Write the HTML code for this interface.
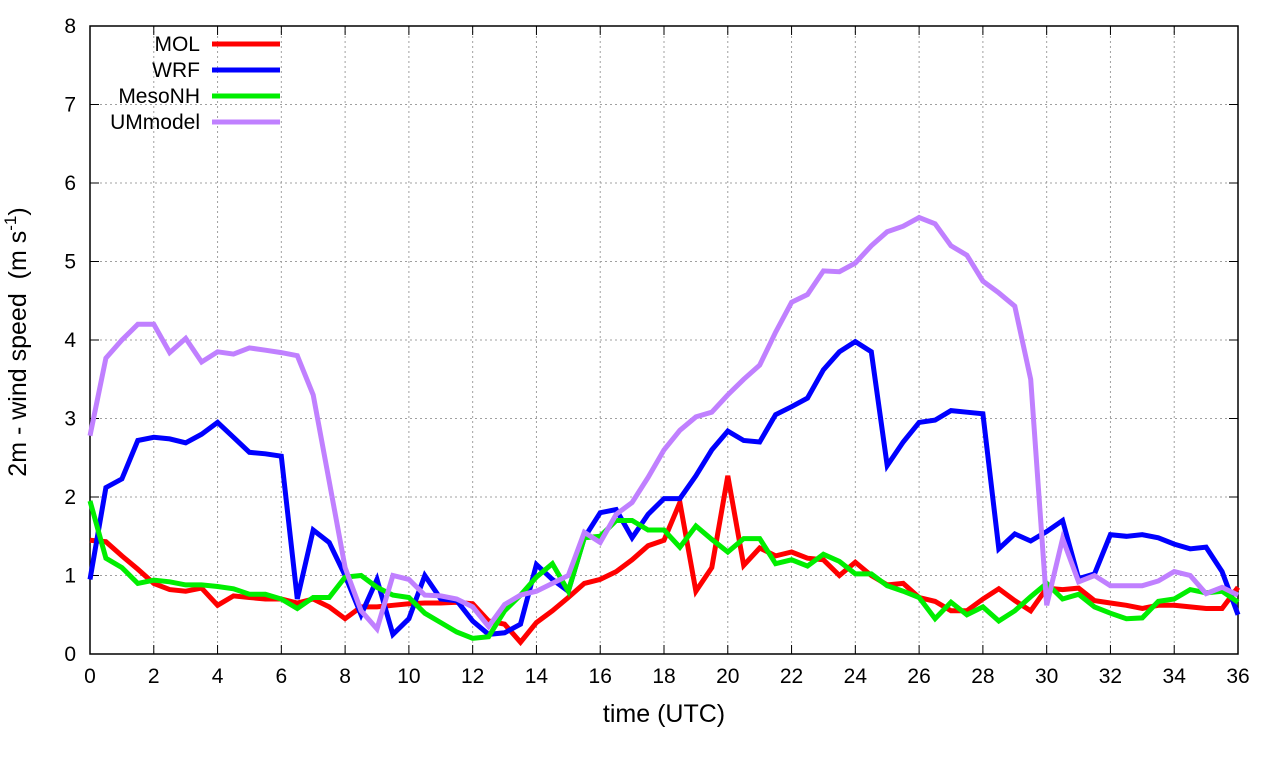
<!DOCTYPE html>
<html><head><meta charset="utf-8"><style>
body{margin:0;background:#fff;}
svg{display:block;font-family:"Liberation Sans",sans-serif;}
</style></head><body>
<svg id="chart" width="1280" height="760"></svg>
<script>
const hours = Array.from({length:73},(_,i)=>i*0.5);
const xTicks = [0,2,4,6,8,10,12,14,16,18,20,22,24,26,28,30,32,34,36];
const yTicks = [0,1,2,3,4,5,6,7,8];
const seriesNames = ["MOL","WRF","MesoNH","UMmodel"];
const seriesColors = ["#ff0000","#0000ff","#00ee00","#c080ff"];
const mol = [1.45,1.43,1.25,1.08,0.9,0.82,0.8,0.84,0.62,0.74,0.72,0.7,0.7,0.65,0.7,0.6,0.45,0.6,0.6,0.62,0.64,0.65,0.65,0.66,0.64,0.42,0.38,0.15,0.4,0.55,0.72,0.9,0.95,1.05,1.2,1.38,1.45,1.93,0.8,1.1,2.27,1.13,1.35,1.25,1.3,1.22,1.2,1.0,1.17,1.0,0.88,0.9,0.72,0.67,0.55,0.55,0.7,0.83,0.68,0.55,0.84,0.82,0.84,0.68,0.65,0.62,0.58,0.62,0.62,0.6,0.58,0.58,0.85];
const wrf = [0.95,2.12,2.23,2.72,2.76,2.74,2.69,2.8,2.95,2.76,2.57,2.55,2.52,0.7,1.58,1.42,1.0,0.5,0.95,0.25,0.45,1.0,0.7,0.68,0.42,0.25,0.27,0.38,1.14,0.95,0.8,1.48,1.8,1.84,1.48,1.78,1.98,1.98,2.27,2.6,2.84,2.72,2.7,3.05,3.15,3.26,3.62,3.85,3.98,3.85,2.4,2.7,2.95,2.98,3.1,3.08,3.06,1.34,1.53,1.44,1.56,1.7,0.96,1.02,1.52,1.5,1.52,1.48,1.4,1.34,1.36,1.05,0.5];
const mesonh = [1.95,1.22,1.1,0.9,0.94,0.92,0.88,0.88,0.86,0.83,0.76,0.76,0.7,0.58,0.72,0.72,0.98,1.0,0.85,0.75,0.72,0.52,0.4,0.28,0.2,0.22,0.55,0.75,0.98,1.15,0.8,1.48,1.5,1.7,1.7,1.58,1.58,1.36,1.63,1.46,1.3,1.47,1.47,1.15,1.2,1.12,1.27,1.18,1.02,1.02,0.87,0.8,0.72,0.45,0.66,0.5,0.6,0.42,0.55,0.73,0.9,0.7,0.76,0.6,0.52,0.45,0.46,0.67,0.7,0.82,0.78,0.8,0.66];
const ummodel = [2.78,3.77,4.0,4.2,4.2,3.84,4.02,3.72,3.85,3.82,3.9,3.87,3.84,3.8,3.3,2.2,1.1,0.55,0.32,1.0,0.95,0.75,0.74,0.7,0.6,0.35,0.63,0.75,0.8,0.9,1.0,1.55,1.42,1.78,1.93,2.25,2.6,2.85,3.02,3.08,3.3,3.5,3.68,4.1,4.48,4.58,4.88,4.87,4.98,5.2,5.38,5.45,5.56,5.48,5.2,5.08,4.75,4.6,4.43,3.5,0.62,1.47,0.92,1.0,0.87,0.87,0.87,0.93,1.05,1.0,0.77,0.85,0.75];
const allSeries = [mol,wrf,mesonh,ummodel];

const svg = document.getElementById('chart');
const NS='http://www.w3.org/2000/svg';
const L=90,R=1238,T=26,B=654;
const xs=v=>L+(v-0)/36*(R-L);
const ys=v=>B-(v-0)/8*(B-T);
function mk(tag,attrs,parent){const e=document.createElementNS(NS,tag);for(const k in attrs)e.setAttribute(k,attrs[k]);(parent||svg).appendChild(e);return e;}

const grid=mk('g',{});


xTicks.forEach(t=>{if(t>0&&t<36){const l=mk('line',{x1:xs(t),x2:xs(t),y1:T,y2:B,stroke:'#a0a0a0','stroke-width':1,'stroke-dasharray':'2,3'},grid);

}});
yTicks.forEach(t=>{if(t>0&&t<8){const l=mk('line',{x1:L,x2:R,y1:ys(t),y2:ys(t),stroke:'#a0a0a0','stroke-width':1,'stroke-dasharray':'2,3'},grid);

}});

const frame=mk('rect',{x:L,y:T,width:R-L,height:B-T,fill:'none',stroke:'#000','stroke-width':1.5});



xTicks.forEach(t=>{
  mk('line',{x1:xs(t),x2:xs(t),y1:B,y2:B-9,stroke:'#000'});
  mk('line',{x1:xs(t),x2:xs(t),y1:T,y2:T+9,stroke:'#000'});
  const tx=mk('text',{x:xs(t),y:B+29,'text-anchor':'middle','font-size':21,fill:'#000'});
  tx.textContent=t;
  
  
});
yTicks.forEach(t=>{
  mk('line',{x1:L,x2:L+9,y1:ys(t),y2:ys(t),stroke:'#000'});
  mk('line',{x1:R,x2:R-9,y1:ys(t),y2:ys(t),stroke:'#000'});
  const tx=mk('text',{x:L-14,y:ys(t)+7,'text-anchor':'end','font-size':21,fill:'#000'});
  tx.textContent=t;
  
  
});

const xt=mk('text',{x:(L+R)/2,y:722,'text-anchor':'middle','font-size':25,fill:'#000'});
xt.textContent='time (UTC)';


const yt=mk('text',{transform:'translate(26,342) rotate(-90)','text-anchor':'middle','font-size':25,fill:'#000'});
yt.innerHTML='2m - wind speed&#160;&#160;(m s<tspan dy="-10" font-size="17">-1</tspan><tspan dy="10">)</tspan>';



allSeries.forEach((s,i)=>{
  const pts=hours.map((h,j)=>xs(h).toFixed(1)+','+ys(s[j]).toFixed(1)).join(' ');
  const p=mk('polyline',{points:pts,fill:'none',stroke:seriesColors[i],'stroke-width':5,'stroke-linejoin':'miter'});
  
  
});

seriesNames.forEach((n,i)=>{
  const y=44+i*26;
  const tx=mk('text',{x:200,y:y+7,'text-anchor':'end','font-size':21,fill:'#000'});
  tx.textContent=n;
  
  
  const ln=mk('line',{x1:212,x2:280,y1:y,y2:y,stroke:seriesColors[i],'stroke-width':5});
  
  
});
</script>
</body></html>
